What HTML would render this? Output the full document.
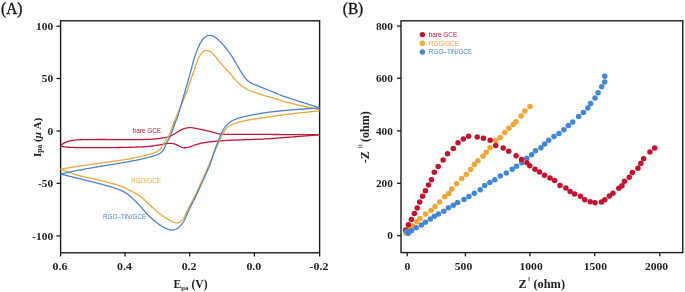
<!DOCTYPE html><html><head><meta charset="utf-8"><style>html,body{margin:0;padding:0;background:#fff;}svg{display:block;will-change:transform;}</style></head><body>
<svg width="685" height="292" viewBox="0 0 685 292">
<rect width="685" height="292" fill="#fff"/>
<rect x="60.60" y="20.80" width="259.00" height="232.00" fill="none" stroke="#1c1c1c" stroke-width="1.4"/>
<line x1="56.5" y1="26.20" x2="60.6" y2="26.20" stroke="#1c1c1c" stroke-width="1.3"/>
<text transform="translate(53.1,29.90) scale(1.05,1)" text-anchor="end" font-family='"Liberation Serif", serif' font-weight="bold" font-size="10.8" fill="#222">100</text>
<line x1="56.5" y1="78.50" x2="60.6" y2="78.50" stroke="#1c1c1c" stroke-width="1.3"/>
<text transform="translate(53.1,82.20) scale(1.05,1)" text-anchor="end" font-family='"Liberation Serif", serif' font-weight="bold" font-size="10.8" fill="#222">50</text>
<line x1="56.5" y1="131.00" x2="60.6" y2="131.00" stroke="#1c1c1c" stroke-width="1.3"/>
<text transform="translate(53.1,134.70) scale(1.05,1)" text-anchor="end" font-family='"Liberation Serif", serif' font-weight="bold" font-size="10.8" fill="#222">0</text>
<line x1="56.5" y1="183.40" x2="60.6" y2="183.40" stroke="#1c1c1c" stroke-width="1.3"/>
<text transform="translate(53.1,187.10) scale(1.05,1)" text-anchor="end" font-family='"Liberation Serif", serif' font-weight="bold" font-size="10.8" fill="#222">-50</text>
<line x1="56.5" y1="235.90" x2="60.6" y2="235.90" stroke="#1c1c1c" stroke-width="1.3"/>
<text transform="translate(53.1,239.60) scale(1.05,1)" text-anchor="end" font-family='"Liberation Serif", serif' font-weight="bold" font-size="10.8" fill="#222">-100</text>
<line x1="60.60" y1="252.8" x2="60.60" y2="256.5" stroke="#1c1c1c" stroke-width="1.3"/>
<text transform="translate(60.00,269.6) scale(1.1,1)" text-anchor="middle" font-family='"Liberation Serif", serif' font-weight="bold" font-size="10.8" fill="#222">0.6</text>
<line x1="125.00" y1="252.8" x2="125.00" y2="256.5" stroke="#1c1c1c" stroke-width="1.3"/>
<text transform="translate(124.40,269.6) scale(1.1,1)" text-anchor="middle" font-family='"Liberation Serif", serif' font-weight="bold" font-size="10.8" fill="#222">0.4</text>
<line x1="189.70" y1="252.8" x2="189.70" y2="256.5" stroke="#1c1c1c" stroke-width="1.3"/>
<text transform="translate(189.10,269.6) scale(1.1,1)" text-anchor="middle" font-family='"Liberation Serif", serif' font-weight="bold" font-size="10.8" fill="#222">0.2</text>
<line x1="254.40" y1="252.8" x2="254.40" y2="256.5" stroke="#1c1c1c" stroke-width="1.3"/>
<text transform="translate(253.80,269.6) scale(1.1,1)" text-anchor="middle" font-family='"Liberation Serif", serif' font-weight="bold" font-size="10.8" fill="#222">0.0</text>
<line x1="319.60" y1="252.8" x2="319.60" y2="256.5" stroke="#1c1c1c" stroke-width="1.3"/>
<text transform="translate(319.00,269.6) scale(1.1,1)" text-anchor="middle" font-family='"Liberation Serif", serif' font-weight="bold" font-size="10.8" fill="#222">-0.2</text>
<path d="M60.50 145.90 L61.42 145.06 L62.30 144.29 L63.23 143.56 L64.23 142.92 L65.28 142.36 L66.39 141.91 L67.53 141.55 L68.68 141.23 L69.85 140.96 L71.03 140.71 L72.21 140.50 L73.39 140.30 L74.57 140.12 L75.76 139.97 L76.96 139.88 L78.16 139.82 L79.36 139.78 L80.56 139.75 L81.76 139.72 L82.96 139.69 L84.16 139.67 L85.36 139.65 L86.56 139.63 L87.76 139.61 L88.96 139.59 L90.16 139.57 L91.36 139.56 L92.56 139.55 L93.76 139.54 L94.96 139.53 L96.16 139.52 L97.36 139.51 L98.56 139.51 L99.76 139.50 L100.96 139.50 L102.16 139.50 L103.36 139.51 L104.56 139.51 L105.76 139.52 L106.96 139.53 L108.16 139.54 L109.36 139.55 L110.57 139.56 L111.77 139.57 L112.97 139.58 L114.17 139.60 L115.37 139.61 L116.57 139.62 L117.77 139.63 L118.97 139.65 L120.17 139.66 L121.37 139.67 L122.57 139.68 L123.77 139.68 L124.97 139.69 L126.17 139.70 L127.37 139.70 L128.57 139.70 L129.77 139.70 L130.97 139.69 L132.17 139.69 L133.37 139.68 L134.57 139.67 L135.77 139.66 L136.97 139.64 L138.17 139.63 L139.38 139.61 L140.58 139.59 L141.78 139.57 L142.98 139.54 L144.18 139.51 L145.38 139.47 L146.58 139.44 L147.78 139.39 L148.97 139.34 L150.17 139.28 L151.37 139.22 L152.57 139.14 L153.77 139.05 L154.96 138.95 L156.16 138.83 L157.35 138.69 L158.54 138.54 L159.73 138.38 L160.92 138.21 L162.10 138.03 L163.29 137.83 L164.47 137.62 L165.65 137.39 L166.82 137.13 L167.98 136.82 L169.12 136.47 L170.24 136.05 L171.34 135.57 L172.41 135.04 L173.47 134.47 L174.51 133.87 L175.53 133.24 L176.54 132.60 L177.55 131.94 L178.56 131.30 L179.60 130.69 L180.65 130.12 L181.73 129.60 L182.83 129.12 L183.95 128.71 L185.09 128.35 L186.25 128.04 L187.42 127.82 L188.61 127.67 L189.80 127.63 L191.00 127.67 L192.19 127.77 L193.38 127.93 L194.57 128.12 L195.74 128.35 L196.92 128.60 L198.09 128.87 L199.26 129.13 L200.43 129.37 L201.61 129.61 L202.79 129.83 L203.97 130.05 L205.15 130.28 L206.33 130.51 L207.50 130.77 L208.67 131.05 L209.83 131.35 L210.98 131.69 L212.13 132.04 L213.27 132.39 L214.42 132.73 L215.58 133.05 L216.75 133.33 L217.92 133.59 L219.09 133.82 L220.28 134.00 L221.47 134.12 L222.67 134.19 L223.87 134.24 L225.07 134.28 L226.27 134.31 L227.47 134.33 L228.67 134.35 L229.87 134.36 L231.07 134.37 L232.27 134.37 L233.47 134.38 L234.67 134.38 L235.87 134.38 L237.07 134.38 L238.27 134.38 L239.47 134.38 L240.67 134.38 L241.87 134.38 L243.07 134.38 L244.27 134.38 L245.47 134.37 L246.67 134.37 L247.87 134.37 L249.07 134.37 L250.28 134.37 L251.48 134.37 L252.68 134.38 L253.88 134.38 L255.08 134.38 L256.28 134.38 L257.48 134.39 L258.68 134.39 L259.88 134.40 L261.08 134.41 L262.28 134.41 L263.48 134.42 L264.68 134.43 L265.88 134.43 L267.08 134.44 L268.28 134.45 L269.48 134.46 L270.68 134.46 L271.88 134.47 L273.08 134.48 L274.28 134.49 L275.48 134.49 L276.68 134.50 L277.89 134.51 L279.09 134.52 L280.29 134.53 L281.49 134.53 L282.69 134.54 L283.89 134.55 L285.09 134.56 L286.29 134.57 L287.49 134.58 L288.69 134.58 L289.89 134.59 L291.09 134.60 L292.29 134.61 L293.49 134.62 L294.69 134.63 L295.89 134.63 L297.09 134.64 L298.29 134.65 L299.49 134.66 L300.69 134.67 L301.89 134.68 L303.09 134.68 L304.29 134.69 L305.50 134.70 L306.70 134.71 L307.90 134.72 L309.10 134.73 L310.30 134.74 L311.50 134.74 L312.70 134.75 L313.90 134.76 L315.10 134.77 L316.29 134.78 L317.47 134.79 L318.65 134.79 L319.50 134.80" fill="none" stroke="#c0183a" stroke-width="1.3" stroke-linejoin="round"/>
<path d="M60.50 145.90 L61.70 146.24 L62.84 146.53 L64.00 146.76 L65.18 146.93 L66.37 147.06 L67.57 147.15 L68.77 147.23 L69.97 147.30 L71.17 147.36 L72.37 147.42 L73.57 147.47 L74.77 147.51 L75.97 147.55 L77.17 147.57 L78.37 147.59 L79.57 147.61 L80.77 147.62 L81.97 147.63 L83.18 147.63 L84.38 147.64 L85.58 147.64 L86.78 147.64 L87.98 147.64 L89.18 147.64 L90.38 147.63 L91.58 147.63 L92.78 147.63 L93.99 147.62 L95.19 147.62 L96.39 147.61 L97.59 147.61 L98.79 147.61 L99.99 147.60 L101.19 147.60 L102.39 147.59 L103.60 147.59 L104.80 147.59 L106.00 147.58 L107.20 147.58 L108.40 147.58 L109.60 147.57 L110.80 147.57 L112.00 147.56 L113.20 147.56 L114.41 147.55 L115.61 147.54 L116.81 147.53 L118.01 147.52 L119.21 147.50 L120.41 147.49 L121.61 147.47 L122.81 147.45 L124.01 147.42 L125.21 147.39 L126.42 147.36 L127.62 147.33 L128.82 147.30 L130.02 147.26 L131.22 147.23 L132.42 147.19 L133.62 147.15 L134.82 147.11 L136.02 147.07 L137.22 147.02 L138.42 146.97 L139.62 146.92 L140.82 146.87 L142.02 146.81 L143.22 146.75 L144.42 146.69 L145.62 146.62 L146.82 146.55 L148.02 146.46 L149.21 146.37 L150.41 146.27 L151.60 146.14 L152.80 146.00 L153.99 145.84 L155.17 145.66 L156.36 145.46 L157.54 145.25 L158.72 145.03 L159.90 144.80 L161.08 144.57 L162.26 144.33 L163.43 144.07 L164.60 143.80 L165.77 143.56 L166.95 143.39 L168.15 143.30 L169.34 143.30 L170.54 143.36 L171.74 143.47 L172.92 143.64 L174.09 143.88 L175.23 144.23 L176.34 144.68 L177.42 145.20 L178.49 145.74 L179.56 146.28 L180.64 146.81 L181.74 147.27 L182.87 147.60 L184.04 147.77 L185.22 147.77 L186.41 147.64 L187.58 147.42 L188.74 147.13 L189.89 146.78 L191.03 146.41 L192.17 146.01 L193.30 145.61 L194.43 145.21 L195.57 144.82 L196.71 144.44 L197.85 144.09 L199.01 143.77 L200.18 143.48 L201.35 143.21 L202.52 142.97 L203.70 142.74 L204.88 142.53 L206.07 142.35 L207.26 142.18 L208.45 142.03 L209.64 141.89 L210.84 141.76 L212.03 141.64 L213.23 141.52 L214.43 141.41 L215.62 141.30 L216.82 141.19 L218.01 141.09 L219.21 140.99 L220.41 140.89 L221.61 140.80 L222.80 140.71 L224.00 140.62 L225.20 140.54 L226.40 140.46 L227.60 140.39 L228.80 140.32 L230.00 140.26 L231.20 140.21 L232.40 140.16 L233.60 140.12 L234.80 140.08 L236.00 140.04 L237.20 140.00 L238.40 139.96 L239.60 139.91 L240.80 139.87 L242.00 139.83 L243.20 139.79 L244.40 139.74 L245.60 139.70 L246.80 139.66 L248.00 139.62 L249.20 139.58 L250.40 139.54 L251.60 139.50 L252.80 139.46 L254.01 139.42 L255.21 139.38 L256.41 139.34 L257.61 139.29 L258.81 139.25 L260.01 139.20 L261.21 139.15 L262.41 139.09 L263.61 139.03 L264.81 138.97 L266.00 138.90 L267.20 138.82 L268.40 138.73 L269.60 138.65 L270.80 138.56 L272.00 138.48 L273.19 138.39 L274.39 138.31 L275.59 138.22 L276.79 138.13 L277.99 138.04 L279.18 137.95 L280.38 137.86 L281.58 137.77 L282.78 137.68 L283.98 137.59 L285.17 137.50 L286.37 137.41 L287.57 137.32 L288.77 137.23 L289.96 137.14 L291.16 137.05 L292.36 136.96 L293.56 136.86 L294.75 136.77 L295.95 136.68 L297.15 136.59 L298.35 136.50 L299.54 136.40 L300.74 136.31 L301.94 136.21 L303.14 136.12 L304.33 136.02 L305.53 135.93 L306.73 135.83 L307.93 135.74 L309.12 135.64 L310.32 135.54 L311.52 135.45 L312.72 135.35 L313.91 135.25 L315.11 135.15 L316.30 135.06 L317.48 134.96 L318.65 134.87 L319.50 134.80" fill="none" stroke="#c0183a" stroke-width="1.3" stroke-linejoin="round"/>
<path d="M319.50 109.70 L318.28 109.43 L317.14 109.18 L315.98 108.93 L314.81 108.67 L313.64 108.42 L312.46 108.16 L311.29 107.90 L310.12 107.65 L308.94 107.39 L307.77 107.13 L306.60 106.88 L305.43 106.62 L304.25 106.36 L303.08 106.10 L301.91 105.84 L300.74 105.58 L299.56 105.32 L298.39 105.06 L297.22 104.80 L296.05 104.54 L294.88 104.27 L293.71 104.00 L292.54 103.73 L291.37 103.46 L290.20 103.18 L289.03 102.90 L287.87 102.60 L286.71 102.28 L285.56 101.95 L284.41 101.60 L283.27 101.22 L282.14 100.83 L281.01 100.42 L279.88 100.01 L278.75 99.60 L277.62 99.21 L276.47 98.84 L275.32 98.50 L274.17 98.18 L273.01 97.86 L271.85 97.56 L270.68 97.26 L269.52 96.96 L268.36 96.65 L267.20 96.33 L266.05 96.00 L264.90 95.66 L263.75 95.31 L262.61 94.94 L261.46 94.57 L260.32 94.20 L259.18 93.83 L258.04 93.45 L256.90 93.07 L255.76 92.70 L254.62 92.33 L253.48 91.96 L252.34 91.58 L251.21 91.18 L250.10 90.73 L249.00 90.24 L247.93 89.71 L246.87 89.15 L245.82 88.55 L244.80 87.93 L243.80 87.27 L242.81 86.59 L241.84 85.88 L240.89 85.15 L239.96 84.39 L239.05 83.61 L238.17 82.80 L237.31 81.96 L236.48 81.09 L235.68 80.19 L234.91 79.27 L234.15 78.35 L233.39 77.42 L232.63 76.49 L231.85 75.57 L231.07 74.67 L230.27 73.77 L229.46 72.88 L228.65 71.99 L227.84 71.11 L227.03 70.22 L226.22 69.34 L225.40 68.45 L224.59 67.57 L223.79 66.68 L222.98 65.79 L222.19 64.89 L221.40 63.98 L220.63 63.06 L219.86 62.14 L219.11 61.20 L218.37 60.26 L217.63 59.31 L216.89 58.37 L216.14 57.43 L215.39 56.49 L214.61 55.58 L213.81 54.69 L212.97 53.83 L212.09 53.01 L211.17 52.25 L210.20 51.57 L209.16 51.01 L208.06 50.64 L206.91 50.50 L205.75 50.61 L204.63 50.93 L203.57 51.45 L202.60 52.12 L201.73 52.91 L200.95 53.81 L200.26 54.79 L199.66 55.82 L199.12 56.89 L198.62 57.98 L198.15 59.08 L197.69 60.19 L197.25 61.31 L196.81 62.43 L196.38 63.55 L195.97 64.67 L195.57 65.81 L195.21 66.95 L194.87 68.10 L194.52 69.25 L194.14 70.39 L193.75 71.52 L193.34 72.65 L192.93 73.78 L192.51 74.91 L192.10 76.04 L191.70 77.17 L191.30 78.30 L190.91 79.43 L190.53 80.57 L190.14 81.71 L189.76 82.85 L189.39 83.99 L189.01 85.13 L188.62 86.27 L188.24 87.40 L187.85 88.54 L187.45 89.67 L187.05 90.80 L186.64 91.93 L186.23 93.06 L185.81 94.18 L185.37 95.30 L184.93 96.42 L184.48 97.53 L184.03 98.64 L183.57 99.75 L183.10 100.86 L182.63 101.97 L182.16 103.07 L181.69 104.17 L181.21 105.28 L180.73 106.38 L180.26 107.48 L179.78 108.58 L179.30 109.68 L178.82 110.78 L178.34 111.88 L177.87 112.99 L177.39 114.09 L176.92 115.19 L176.45 116.30 L175.98 117.40 L175.51 118.51 L175.05 119.61 L174.59 120.73 L174.15 121.84 L173.71 122.96 L173.29 124.08 L172.88 125.21 L172.47 126.34 L172.07 127.47 L171.66 128.60 L171.26 129.73 L170.84 130.86 L170.42 131.98 L169.98 133.10 L169.51 134.20 L168.99 135.28 L168.39 136.32 L167.72 137.30 L167.00 138.26 L166.29 139.22 L165.64 140.22 L165.04 141.26 L164.49 142.32 L163.95 143.39 L163.39 144.45 L162.79 145.49 L162.14 146.50 L161.45 147.48 L160.71 148.42 L159.92 149.32 L159.06 150.15 L158.13 150.90 L157.14 151.55 L156.09 152.12 L154.99 152.60 L153.87 153.02 L152.74 153.40 L151.59 153.76 L150.43 154.09 L149.28 154.42 L148.12 154.73 L146.96 155.04 L145.80 155.33 L144.63 155.61 L143.46 155.88 L142.29 156.15 L141.12 156.41 L139.94 156.67 L138.77 156.92 L137.60 157.17 L136.42 157.42 L135.25 157.67 L134.07 157.91 L132.89 158.15 L131.72 158.38 L130.54 158.61 L129.36 158.83 L128.18 159.05 L126.99 159.25 L125.81 159.46 L124.63 159.66 L123.44 159.85 L122.25 160.03 L121.07 160.22 L119.88 160.39 L118.69 160.57 L117.50 160.74 L116.31 160.91 L115.13 161.08 L113.94 161.25 L112.75 161.41 L111.56 161.58 L110.37 161.75 L109.18 161.91 L107.99 162.08 L106.80 162.24 L105.61 162.40 L104.42 162.56 L103.23 162.72 L102.04 162.88 L100.85 163.04 L99.66 163.21 L98.47 163.37 L97.28 163.54 L96.10 163.70 L94.91 163.87 L93.72 164.03 L92.53 164.19 L91.34 164.36 L90.15 164.52 L88.96 164.69 L87.77 164.85 L86.58 165.02 L85.39 165.19 L84.20 165.36 L83.02 165.53 L81.83 165.70 L80.64 165.88 L79.45 166.06 L78.26 166.24 L77.08 166.42 L75.89 166.61 L74.71 166.80 L73.52 167.00 L72.34 167.19 L71.15 167.39 L69.97 167.59 L68.78 167.79 L67.60 167.99 L66.42 168.19 L65.23 168.39 L64.05 168.59 L62.89 168.79 L61.73 168.99 L60.50 169.20" fill="none" stroke="#eaa83c" stroke-width="1.3" stroke-linejoin="round"/>
<path d="M60.50 169.20 L61.68 169.62 L62.78 170.02 L63.89 170.43 L65.02 170.84 L66.14 171.25 L67.27 171.66 L68.40 172.07 L69.53 172.47 L70.67 172.87 L71.80 173.26 L72.94 173.65 L74.08 174.03 L75.22 174.40 L76.37 174.76 L77.52 175.10 L78.67 175.43 L79.83 175.75 L80.99 176.05 L82.16 176.34 L83.33 176.62 L84.50 176.89 L85.67 177.16 L86.84 177.41 L88.02 177.66 L89.19 177.91 L90.37 178.16 L91.54 178.41 L92.71 178.66 L93.89 178.92 L95.06 179.18 L96.23 179.44 L97.40 179.72 L98.57 180.00 L99.74 180.29 L100.90 180.58 L102.07 180.87 L103.23 181.17 L104.39 181.46 L105.56 181.76 L106.72 182.06 L107.88 182.36 L109.04 182.67 L110.21 182.97 L111.37 183.29 L112.52 183.60 L113.68 183.92 L114.84 184.25 L115.99 184.59 L117.14 184.93 L118.29 185.29 L119.43 185.66 L120.56 186.05 L121.69 186.46 L122.81 186.90 L123.91 187.37 L125.00 187.87 L126.08 188.40 L127.15 188.95 L128.21 189.51 L129.28 190.07 L130.34 190.62 L131.41 191.18 L132.47 191.73 L133.54 192.29 L134.59 192.86 L135.64 193.44 L136.68 194.04 L137.71 194.66 L138.73 195.30 L139.72 195.98 L140.69 196.68 L141.63 197.43 L142.54 198.20 L143.43 199.01 L144.31 199.83 L145.17 200.67 L146.03 201.51 L146.90 202.34 L147.77 203.16 L148.65 203.98 L149.54 204.79 L150.42 205.61 L151.30 206.42 L152.19 207.23 L153.07 208.04 L153.97 208.84 L154.87 209.63 L155.78 210.42 L156.70 211.19 L157.62 211.96 L158.55 212.72 L159.49 213.47 L160.43 214.21 L161.39 214.94 L162.36 215.65 L163.34 216.34 L164.34 217.01 L165.34 217.67 L166.36 218.30 L167.39 218.92 L168.43 219.52 L169.48 220.11 L170.53 220.69 L171.58 221.26 L172.65 221.82 L173.73 222.33 L174.84 222.73 L175.99 222.96 L177.15 222.97 L178.29 222.76 L179.40 222.34 L180.44 221.78 L181.39 221.08 L182.25 220.27 L183.00 219.34 L183.64 218.34 L184.21 217.29 L184.72 216.21 L185.20 215.10 L185.67 214.00 L186.15 212.90 L186.64 211.80 L187.16 210.72 L187.70 209.65 L188.24 208.58 L188.80 207.51 L189.36 206.45 L189.93 205.39 L190.50 204.34 L191.07 203.28 L191.64 202.22 L192.20 201.16 L192.77 200.10 L193.33 199.04 L193.88 197.97 L194.43 196.91 L194.98 195.83 L195.51 194.76 L196.04 193.68 L196.56 192.60 L197.07 191.51 L197.58 190.42 L198.09 189.33 L198.59 188.24 L199.08 187.15 L199.58 186.05 L200.07 184.96 L200.56 183.86 L201.05 182.77 L201.55 181.67 L202.04 180.58 L202.53 179.48 L203.03 178.39 L203.52 177.29 L204.02 176.20 L204.51 175.10 L205.00 174.01 L205.50 172.91 L205.99 171.82 L206.48 170.72 L206.96 169.62 L207.45 168.52 L207.93 167.42 L208.42 166.33 L208.90 165.23 L209.38 164.12 L209.86 163.02 L210.33 161.92 L210.80 160.81 L211.27 159.71 L211.74 158.60 L212.21 157.50 L212.68 156.39 L213.15 155.29 L213.62 154.18 L214.09 153.07 L214.56 151.97 L215.03 150.87 L215.50 149.76 L215.98 148.66 L216.46 147.56 L216.94 146.46 L217.42 145.36 L217.90 144.26 L218.39 143.16 L218.87 142.06 L219.37 140.96 L219.86 139.87 L220.37 138.78 L220.88 137.69 L221.40 136.61 L221.93 135.53 L222.47 134.46 L223.01 133.39 L223.57 132.33 L224.16 131.28 L224.81 130.28 L225.53 129.33 L226.33 128.44 L227.20 127.62 L228.12 126.86 L229.10 126.17 L230.12 125.54 L231.17 124.98 L232.26 124.47 L233.37 124.02 L234.50 123.60 L235.63 123.22 L236.78 122.86 L237.93 122.51 L239.08 122.18 L240.24 121.86 L241.40 121.56 L242.57 121.27 L243.74 120.99 L244.91 120.72 L246.08 120.47 L247.26 120.22 L248.43 119.99 L249.61 119.76 L250.80 119.55 L251.98 119.35 L253.17 119.16 L254.36 118.99 L255.55 118.84 L256.74 118.68 L257.93 118.53 L259.12 118.38 L260.31 118.23 L261.50 118.06 L262.69 117.89 L263.88 117.71 L265.06 117.53 L266.25 117.34 L267.44 117.15 L268.62 116.96 L269.81 116.77 L271.00 116.59 L272.18 116.41 L273.37 116.24 L274.56 116.06 L275.75 115.90 L276.94 115.73 L278.13 115.57 L279.32 115.40 L280.51 115.24 L281.70 115.08 L282.89 114.92 L284.08 114.76 L285.27 114.60 L286.46 114.45 L287.65 114.29 L288.85 114.14 L290.04 113.99 L291.23 113.85 L292.42 113.70 L293.61 113.56 L294.81 113.42 L296.00 113.29 L297.19 113.16 L298.39 113.03 L299.58 112.90 L300.78 112.77 L301.97 112.65 L303.17 112.53 L304.36 112.40 L305.56 112.28 L306.75 112.16 L307.95 112.04 L309.14 111.92 L310.34 111.81 L311.53 111.69 L312.73 111.57 L313.92 111.45 L315.12 111.33 L316.31 111.22 L317.48 111.10 L318.65 110.99 L319.50 110.90" fill="none" stroke="#eaa83c" stroke-width="1.3" stroke-linejoin="round"/>
<path d="M319.50 107.80 L318.31 107.42 L317.19 107.07 L316.06 106.71 L314.92 106.35 L313.78 105.99 L312.63 105.63 L311.49 105.27 L310.34 104.91 L309.20 104.54 L308.05 104.18 L306.91 103.82 L305.76 103.46 L304.62 103.10 L303.48 102.74 L302.33 102.37 L301.19 102.01 L300.04 101.65 L298.90 101.29 L297.76 100.92 L296.61 100.56 L295.47 100.19 L294.32 99.83 L293.18 99.46 L292.04 99.10 L290.90 98.73 L289.75 98.36 L288.61 97.99 L287.47 97.61 L286.33 97.24 L285.19 96.86 L284.06 96.47 L282.92 96.07 L281.80 95.66 L280.68 95.22 L279.58 94.75 L278.48 94.26 L277.39 93.76 L276.29 93.28 L275.18 92.82 L274.07 92.38 L272.95 91.94 L271.83 91.50 L270.72 91.06 L269.60 90.63 L268.48 90.19 L267.37 89.74 L266.25 89.30 L265.14 88.85 L264.02 88.40 L262.91 87.95 L261.80 87.50 L260.69 87.05 L259.58 86.59 L258.47 86.13 L257.36 85.67 L256.26 85.20 L255.15 84.73 L254.04 84.28 L252.93 83.82 L251.83 83.34 L250.75 82.82 L249.71 82.24 L248.71 81.58 L247.78 80.84 L246.90 80.03 L246.08 79.16 L245.31 78.24 L244.58 77.29 L243.88 76.31 L243.20 75.33 L242.54 74.32 L241.90 73.31 L241.28 72.28 L240.66 71.25 L240.05 70.22 L239.45 69.18 L238.85 68.14 L238.24 67.10 L237.64 66.07 L237.03 65.04 L236.42 64.00 L235.81 62.96 L235.21 61.93 L234.60 60.89 L234.00 59.85 L233.39 58.82 L232.77 57.79 L232.13 56.77 L231.48 55.76 L230.82 54.76 L230.14 53.77 L229.45 52.80 L228.74 51.83 L228.02 50.86 L227.30 49.91 L226.56 48.96 L225.81 48.02 L225.06 47.09 L224.29 46.16 L223.51 45.25 L222.72 44.35 L221.91 43.47 L221.08 42.60 L220.24 41.75 L219.38 40.90 L218.52 40.07 L217.64 39.25 L216.74 38.46 L215.81 37.71 L214.82 37.03 L213.79 36.44 L212.71 35.94 L211.58 35.58 L210.42 35.38 L209.25 35.37 L208.09 35.56 L206.98 35.93 L205.93 36.47 L204.96 37.15 L204.07 37.94 L203.26 38.81 L202.50 39.74 L201.80 40.71 L201.14 41.71 L200.52 42.74 L199.94 43.79 L199.40 44.86 L198.88 45.94 L198.39 47.04 L197.92 48.14 L197.47 49.25 L197.04 50.37 L196.61 51.49 L196.19 52.62 L195.79 53.75 L195.38 54.88 L194.99 56.01 L194.60 57.15 L194.21 58.28 L193.84 59.43 L193.49 60.57 L193.16 61.73 L192.85 62.89 L192.56 64.05 L192.28 65.22 L192.00 66.38 L191.71 67.55 L191.41 68.71 L191.11 69.87 L190.80 71.03 L190.50 72.19 L190.19 73.35 L189.87 74.51 L189.55 75.67 L189.23 76.83 L188.90 77.98 L188.57 79.14 L188.24 80.29 L187.91 81.44 L187.58 82.60 L187.24 83.75 L186.91 84.90 L186.57 86.05 L186.23 87.21 L185.90 88.36 L185.56 89.51 L185.22 90.66 L184.89 91.81 L184.55 92.97 L184.21 94.12 L183.88 95.27 L183.54 96.42 L183.20 97.58 L182.87 98.73 L182.54 99.88 L182.21 101.04 L181.88 102.19 L181.55 103.35 L181.23 104.50 L180.91 105.66 L180.59 106.81 L180.26 107.97 L179.94 109.13 L179.61 110.28 L179.28 111.44 L178.94 112.59 L178.59 113.73 L178.22 114.88 L177.84 116.01 L177.43 117.14 L177.01 118.26 L176.56 119.38 L176.10 120.49 L175.64 121.60 L175.19 122.71 L174.76 123.83 L174.34 124.95 L173.94 126.09 L173.56 127.22 L173.18 128.36 L172.80 129.50 L172.41 130.64 L172.02 131.77 L171.61 132.90 L171.17 134.02 L170.71 135.12 L170.22 136.22 L169.69 137.29 L169.14 138.36 L168.57 139.41 L167.99 140.47 L167.41 141.52 L166.85 142.58 L166.32 143.65 L165.83 144.75 L165.36 145.85 L164.90 146.96 L164.41 148.05 L163.85 149.11 L163.22 150.12 L162.49 151.06 L161.68 151.93 L160.79 152.72 L159.82 153.42 L158.79 154.02 L157.71 154.54 L156.60 154.99 L155.47 155.39 L154.33 155.74 L153.18 156.08 L152.02 156.40 L150.86 156.71 L149.70 157.01 L148.54 157.32 L147.38 157.62 L146.21 157.91 L145.04 158.19 L143.88 158.47 L142.71 158.74 L141.54 159.01 L140.37 159.27 L139.19 159.53 L138.02 159.78 L136.85 160.03 L135.67 160.27 L134.49 160.52 L133.32 160.75 L132.14 160.98 L130.96 161.21 L129.78 161.43 L128.60 161.65 L127.42 161.86 L126.24 162.08 L125.06 162.29 L123.87 162.50 L122.69 162.70 L121.51 162.90 L120.33 163.10 L119.14 163.30 L117.96 163.49 L116.77 163.69 L115.59 163.88 L114.40 164.08 L113.22 164.27 L112.03 164.47 L110.85 164.66 L109.66 164.85 L108.48 165.05 L107.29 165.24 L106.11 165.43 L104.92 165.61 L103.74 165.80 L102.55 166.00 L101.37 166.20 L100.19 166.40 L99.00 166.60 L97.82 166.81 L96.64 167.01 L95.46 167.22 L94.27 167.43 L93.09 167.64 L91.91 167.85 L90.73 168.06 L89.55 168.27 L88.37 168.48 L87.18 168.69 L86.00 168.91 L84.82 169.12 L83.64 169.34 L82.46 169.56 L81.28 169.78 L80.10 170.00 L78.92 170.22 L77.74 170.45 L76.57 170.68 L75.39 170.91 L74.21 171.15 L73.03 171.39 L71.86 171.63 L70.68 171.87 L69.51 172.11 L68.33 172.36 L67.16 172.60 L65.98 172.85 L64.81 173.10 L63.64 173.34 L62.49 173.59 L61.33 173.83 L60.50 174.00" fill="none" stroke="#4b84cc" stroke-width="1.3" stroke-linejoin="round"/>
<path d="M60.50 174.00 L61.71 174.30 L62.85 174.59 L64.00 174.88 L65.16 175.17 L66.33 175.46 L67.49 175.75 L68.66 176.04 L69.82 176.33 L70.99 176.62 L72.15 176.92 L73.32 177.21 L74.48 177.50 L75.65 177.79 L76.81 178.08 L77.98 178.37 L79.15 178.66 L80.31 178.95 L81.48 179.23 L82.65 179.51 L83.82 179.79 L84.98 180.08 L86.15 180.36 L87.32 180.64 L88.49 180.92 L89.65 181.20 L90.82 181.49 L91.99 181.78 L93.15 182.07 L94.32 182.37 L95.48 182.67 L96.64 182.97 L97.80 183.28 L98.96 183.59 L100.12 183.91 L101.28 184.22 L102.44 184.54 L103.60 184.86 L104.75 185.18 L105.91 185.50 L107.07 185.82 L108.23 186.15 L109.38 186.48 L110.53 186.81 L111.69 187.15 L112.84 187.50 L113.98 187.85 L115.13 188.22 L116.27 188.60 L117.40 188.99 L118.53 189.41 L119.65 189.84 L120.76 190.30 L121.85 190.79 L122.93 191.32 L123.99 191.88 L125.03 192.48 L126.04 193.12 L127.03 193.81 L127.99 194.52 L128.94 195.26 L129.88 196.01 L130.80 196.78 L131.71 197.57 L132.59 198.38 L133.46 199.21 L134.31 200.05 L135.16 200.91 L136.00 201.77 L136.83 202.64 L137.65 203.51 L138.47 204.38 L139.30 205.26 L140.12 206.14 L140.93 207.02 L141.73 207.91 L142.52 208.82 L143.31 209.73 L144.09 210.64 L144.87 211.55 L145.66 212.46 L146.46 213.35 L147.28 214.23 L148.12 215.09 L148.97 215.94 L149.84 216.77 L150.72 217.59 L151.61 218.39 L152.51 219.18 L153.42 219.96 L154.35 220.73 L155.28 221.49 L156.22 222.24 L157.17 222.97 L158.12 223.70 L159.09 224.41 L160.08 225.09 L161.08 225.76 L162.10 226.39 L163.14 226.99 L164.19 227.56 L165.27 228.10 L166.35 228.61 L167.46 229.08 L168.59 229.48 L169.74 229.79 L170.91 229.99 L172.09 230.05 L173.27 229.95 L174.43 229.69 L175.54 229.28 L176.60 228.75 L177.62 228.12 L178.59 227.42 L179.51 226.65 L180.38 225.83 L181.20 224.96 L181.97 224.04 L182.68 223.07 L183.34 222.07 L183.95 221.04 L184.51 219.98 L185.04 218.90 L185.54 217.81 L186.02 216.71 L186.49 215.61 L186.97 214.50 L187.44 213.40 L187.93 212.30 L188.43 211.21 L188.94 210.12 L189.47 209.04 L189.99 207.96 L190.53 206.89 L191.06 205.81 L191.60 204.74 L192.14 203.66 L192.67 202.59 L193.21 201.51 L193.75 200.44 L194.28 199.36 L194.81 198.28 L195.34 197.20 L195.86 196.12 L196.38 195.04 L196.89 193.95 L197.40 192.86 L197.90 191.77 L198.40 190.68 L198.90 189.59 L199.40 188.50 L199.89 187.40 L200.39 186.31 L200.88 185.21 L201.37 184.11 L201.86 183.02 L202.34 181.92 L202.83 180.82 L203.33 179.73 L203.82 178.63 L204.32 177.54 L204.81 176.44 L205.31 175.35 L205.81 174.26 L206.31 173.16 L206.80 172.07 L207.29 170.97 L207.77 169.87 L208.25 168.77 L208.72 167.66 L209.17 166.55 L209.62 165.44 L210.05 164.31 L210.46 163.19 L210.86 162.05 L211.25 160.92 L211.63 159.78 L212.01 158.64 L212.37 157.49 L212.74 156.35 L213.10 155.20 L213.46 154.06 L213.83 152.92 L214.21 151.77 L214.59 150.64 L214.99 149.50 L215.39 148.37 L215.80 147.24 L216.22 146.12 L216.65 144.99 L217.08 143.87 L217.52 142.75 L217.96 141.64 L218.40 140.52 L218.83 139.40 L219.27 138.28 L219.71 137.16 L220.15 136.05 L220.61 134.93 L221.07 133.83 L221.57 132.73 L222.09 131.65 L222.65 130.59 L223.27 129.56 L223.93 128.56 L224.63 127.59 L225.38 126.65 L226.16 125.74 L226.98 124.87 L227.84 124.03 L228.74 123.24 L229.67 122.48 L230.63 121.77 L231.64 121.11 L232.67 120.51 L233.74 119.97 L234.83 119.48 L235.95 119.04 L237.08 118.64 L238.22 118.27 L239.37 117.92 L240.53 117.60 L241.69 117.28 L242.85 116.99 L244.02 116.70 L245.19 116.43 L246.36 116.16 L247.53 115.91 L248.71 115.66 L249.89 115.41 L251.06 115.18 L252.24 114.95 L253.42 114.72 L254.60 114.49 L255.78 114.28 L256.96 114.06 L258.15 113.85 L259.33 113.65 L260.52 113.45 L261.70 113.25 L262.89 113.06 L264.07 112.88 L265.26 112.71 L266.45 112.54 L267.64 112.38 L268.83 112.22 L270.03 112.07 L271.22 111.93 L272.41 111.79 L273.60 111.66 L274.80 111.52 L275.99 111.39 L277.19 111.27 L278.38 111.14 L279.58 111.02 L280.77 110.89 L281.97 110.77 L283.16 110.65 L284.36 110.54 L285.55 110.42 L286.75 110.31 L287.95 110.20 L289.14 110.09 L290.34 109.99 L291.54 109.89 L292.73 109.79 L293.93 109.69 L295.13 109.59 L296.33 109.50 L297.52 109.41 L298.72 109.33 L299.92 109.24 L301.12 109.16 L302.32 109.08 L303.51 109.00 L304.71 108.92 L305.91 108.85 L307.11 108.77 L308.31 108.69 L309.51 108.62 L310.71 108.54 L311.91 108.47 L313.11 108.40 L314.30 108.32 L315.50 108.25 L316.69 108.18 L317.86 108.10 L319.06 108.03 L319.50 108.00" fill="none" stroke="#4b84cc" stroke-width="1.3" stroke-linejoin="round"/>
<text x="132.7" y="132.6" font-family='"Liberation Sans", sans-serif' font-size="6.4" fill="#c8102e">bare GCE</text>
<text x="130.9" y="183.3" font-family='"Liberation Sans", sans-serif' font-size="6.4" fill="#f2a531">RGO/GCE</text>
<text x="102.9" y="219.1" font-family='"Liberation Sans", sans-serif' font-size="6.4" fill="#4386d8">RGO–TiN/GCE</text>
<text x="173.6" y="288" font-family='"Liberation Serif", serif' font-weight="bold" font-size="11.6" fill="#222">E<tspan font-size="6.8" dy="1.6">pa</tspan><tspan dy="-1.6"> (V)</tspan></text>
<text transform="translate(41,157.0) rotate(-90)" x="0" y="0" font-family='"Liberation Serif", serif' font-weight="bold" font-size="11" fill="#222">I<tspan font-size="7.6" dy="1.3">pa</tspan><tspan dy="-1.3"> (</tspan><tspan font-style="italic">μ</tspan> A)</text>
<text transform="translate(1.0,13.5) scale(1.03,1.15)" x="0" y="0" font-family='"Liberation Serif", serif' font-size="15" fill="#111" stroke="#111" stroke-width="0.35">(A)</text>
<text transform="translate(342.8,13.5) scale(1.02,1.14)" x="0" y="0" font-family='"Liberation Serif", serif' font-size="15" fill="#111" stroke="#111" stroke-width="0.3">(B)</text>
<rect x="401.00" y="20.80" width="281.80" height="231.80" fill="none" stroke="#1c1c1c" stroke-width="1.4"/>
<line x1="397" y1="26.10" x2="401" y2="26.10" stroke="#1c1c1c" stroke-width="1.3"/>
<text transform="translate(392.9,29.85) scale(1.0,1)" text-anchor="end" font-family='"Liberation Serif", serif' font-weight="bold" font-size="11.3" fill="#222">800</text>
<line x1="397" y1="78.20" x2="401" y2="78.20" stroke="#1c1c1c" stroke-width="1.3"/>
<text transform="translate(392.9,81.95) scale(1.0,1)" text-anchor="end" font-family='"Liberation Serif", serif' font-weight="bold" font-size="11.3" fill="#222">600</text>
<line x1="397" y1="130.80" x2="401" y2="130.80" stroke="#1c1c1c" stroke-width="1.3"/>
<text transform="translate(392.9,134.55) scale(1.0,1)" text-anchor="end" font-family='"Liberation Serif", serif' font-weight="bold" font-size="11.3" fill="#222">400</text>
<line x1="397" y1="183.30" x2="401" y2="183.30" stroke="#1c1c1c" stroke-width="1.3"/>
<text transform="translate(392.9,187.05) scale(1.0,1)" text-anchor="end" font-family='"Liberation Serif", serif' font-weight="bold" font-size="11.3" fill="#222">200</text>
<line x1="397" y1="235.70" x2="401" y2="235.70" stroke="#1c1c1c" stroke-width="1.3"/>
<text transform="translate(392.9,239.45) scale(1.0,1)" text-anchor="end" font-family='"Liberation Serif", serif' font-weight="bold" font-size="11.3" fill="#222">0</text>
<line x1="407.20" y1="252.6" x2="407.20" y2="256.3" stroke="#1c1c1c" stroke-width="1.3"/>
<text transform="translate(407.50,269.6) scale(1.02,1)" text-anchor="middle" font-family='"Liberation Serif", serif' font-weight="bold" font-size="11.4" fill="#222">0</text>
<line x1="465.40" y1="252.6" x2="465.40" y2="256.3" stroke="#1c1c1c" stroke-width="1.3"/>
<text transform="translate(463.50,269.6) scale(1.02,1)" text-anchor="middle" font-family='"Liberation Serif", serif' font-weight="bold" font-size="11.4" fill="#222">500</text>
<line x1="529.90" y1="252.6" x2="529.90" y2="256.3" stroke="#1c1c1c" stroke-width="1.3"/>
<text transform="translate(531.10,269.6) scale(1.02,1)" text-anchor="middle" font-family='"Liberation Serif", serif' font-weight="bold" font-size="11.4" fill="#222">1000</text>
<line x1="594.70" y1="252.6" x2="594.70" y2="256.3" stroke="#1c1c1c" stroke-width="1.3"/>
<text transform="translate(595.35,269.6) scale(1.02,1)" text-anchor="middle" font-family='"Liberation Serif", serif' font-weight="bold" font-size="11.4" fill="#222">1500</text>
<line x1="659.80" y1="252.6" x2="659.80" y2="256.3" stroke="#1c1c1c" stroke-width="1.3"/>
<text transform="translate(656.50,269.6) scale(1.02,1)" text-anchor="middle" font-family='"Liberation Serif", serif' font-weight="bold" font-size="11.4" fill="#222">2000</text>
<circle cx="406.00" cy="233.20" r="2.75" fill="#f2a531"/>
<circle cx="409.00" cy="229.60" r="2.75" fill="#f2a531"/>
<circle cx="412.60" cy="226.00" r="2.75" fill="#f2a531"/>
<circle cx="416.80" cy="221.80" r="2.75" fill="#f2a531"/>
<circle cx="420.00" cy="218.50" r="2.75" fill="#f2a531"/>
<circle cx="425.50" cy="214.00" r="2.75" fill="#f2a531"/>
<circle cx="431.00" cy="210.50" r="2.75" fill="#f2a531"/>
<circle cx="435.10" cy="206.40" r="2.75" fill="#f2a531"/>
<circle cx="439.60" cy="202.10" r="2.75" fill="#f2a531"/>
<circle cx="444.70" cy="196.80" r="2.75" fill="#f2a531"/>
<circle cx="448.80" cy="193.40" r="2.75" fill="#f2a531"/>
<circle cx="451.70" cy="189.00" r="2.75" fill="#f2a531"/>
<circle cx="456.60" cy="183.70" r="2.75" fill="#f2a531"/>
<circle cx="461.70" cy="178.50" r="2.75" fill="#f2a531"/>
<circle cx="466.20" cy="174.50" r="2.75" fill="#f2a531"/>
<circle cx="470.60" cy="169.60" r="2.75" fill="#f2a531"/>
<circle cx="474.30" cy="164.40" r="2.75" fill="#f2a531"/>
<circle cx="477.90" cy="160.70" r="2.75" fill="#f2a531"/>
<circle cx="483.00" cy="156.20" r="2.75" fill="#f2a531"/>
<circle cx="486.20" cy="152.30" r="2.75" fill="#f2a531"/>
<circle cx="490.00" cy="147.80" r="2.75" fill="#f2a531"/>
<circle cx="495.70" cy="140.40" r="2.75" fill="#f2a531"/>
<circle cx="500.20" cy="137.50" r="2.75" fill="#f2a531"/>
<circle cx="504.70" cy="132.60" r="2.75" fill="#f2a531"/>
<circle cx="508.90" cy="128.30" r="2.75" fill="#f2a531"/>
<circle cx="513.30" cy="124.60" r="2.75" fill="#f2a531"/>
<circle cx="516.00" cy="121.70" r="2.75" fill="#f2a531"/>
<circle cx="521.10" cy="116.10" r="2.75" fill="#f2a531"/>
<circle cx="524.90" cy="111.00" r="2.75" fill="#f2a531"/>
<circle cx="530.00" cy="106.60" r="2.75" fill="#f2a531"/>
<circle cx="405.70" cy="229.90" r="2.75" fill="#c8102e"/>
<circle cx="406.60" cy="231.60" r="2.75" fill="#4386d8"/>
<circle cx="408.30" cy="233.20" r="2.75" fill="#4386d8"/>
<circle cx="411.40" cy="230.80" r="2.75" fill="#4386d8"/>
<circle cx="416.20" cy="227.80" r="2.75" fill="#4386d8"/>
<circle cx="421.40" cy="224.90" r="2.75" fill="#4386d8"/>
<circle cx="425.50" cy="222.20" r="2.75" fill="#4386d8"/>
<circle cx="430.30" cy="219.00" r="2.75" fill="#4386d8"/>
<circle cx="434.40" cy="216.30" r="2.75" fill="#4386d8"/>
<circle cx="438.50" cy="214.00" r="2.75" fill="#4386d8"/>
<circle cx="443.80" cy="211.20" r="2.75" fill="#4386d8"/>
<circle cx="448.40" cy="207.80" r="2.75" fill="#4386d8"/>
<circle cx="453.30" cy="205.30" r="2.75" fill="#4386d8"/>
<circle cx="457.60" cy="202.40" r="2.75" fill="#4386d8"/>
<circle cx="464.00" cy="199.50" r="2.75" fill="#4386d8"/>
<circle cx="468.90" cy="196.50" r="2.75" fill="#4386d8"/>
<circle cx="474.30" cy="193.30" r="2.75" fill="#4386d8"/>
<circle cx="480.20" cy="189.80" r="2.75" fill="#4386d8"/>
<circle cx="484.70" cy="185.50" r="2.75" fill="#4386d8"/>
<circle cx="489.80" cy="182.60" r="2.75" fill="#4386d8"/>
<circle cx="494.80" cy="179.80" r="2.75" fill="#4386d8"/>
<circle cx="500.30" cy="176.00" r="2.75" fill="#4386d8"/>
<circle cx="506.30" cy="173.10" r="2.75" fill="#4386d8"/>
<circle cx="512.20" cy="169.20" r="2.75" fill="#4386d8"/>
<circle cx="516.50" cy="166.30" r="2.75" fill="#4386d8"/>
<circle cx="521.70" cy="162.80" r="2.75" fill="#4386d8"/>
<circle cx="526.80" cy="158.20" r="2.75" fill="#4386d8"/>
<circle cx="531.60" cy="154.70" r="2.75" fill="#4386d8"/>
<circle cx="535.50" cy="150.80" r="2.75" fill="#4386d8"/>
<circle cx="540.90" cy="147.70" r="2.75" fill="#4386d8"/>
<circle cx="544.60" cy="144.00" r="2.75" fill="#4386d8"/>
<circle cx="548.70" cy="140.20" r="2.75" fill="#4386d8"/>
<circle cx="554.00" cy="136.40" r="2.75" fill="#4386d8"/>
<circle cx="559.00" cy="133.50" r="2.75" fill="#4386d8"/>
<circle cx="563.90" cy="129.70" r="2.75" fill="#4386d8"/>
<circle cx="568.30" cy="125.60" r="2.75" fill="#4386d8"/>
<circle cx="572.70" cy="121.90" r="2.75" fill="#4386d8"/>
<circle cx="578.60" cy="116.60" r="2.75" fill="#4386d8"/>
<circle cx="583.40" cy="112.40" r="2.75" fill="#4386d8"/>
<circle cx="587.80" cy="108.10" r="2.75" fill="#4386d8"/>
<circle cx="590.60" cy="103.60" r="2.75" fill="#4386d8"/>
<circle cx="595.00" cy="98.00" r="2.75" fill="#4386d8"/>
<circle cx="598.10" cy="92.70" r="2.75" fill="#4386d8"/>
<circle cx="601.70" cy="86.70" r="2.75" fill="#4386d8"/>
<circle cx="604.70" cy="82.00" r="2.75" fill="#4386d8"/>
<circle cx="604.70" cy="76.30" r="2.75" fill="#4386d8"/>
<circle cx="408.40" cy="224.80" r="2.75" fill="#c8102e"/>
<circle cx="411.40" cy="219.40" r="2.75" fill="#c8102e"/>
<circle cx="414.40" cy="213.60" r="2.75" fill="#c8102e"/>
<circle cx="417.20" cy="208.00" r="2.75" fill="#c8102e"/>
<circle cx="419.70" cy="201.90" r="2.75" fill="#c8102e"/>
<circle cx="422.60" cy="196.30" r="2.75" fill="#c8102e"/>
<circle cx="425.40" cy="190.80" r="2.75" fill="#c8102e"/>
<circle cx="428.50" cy="185.10" r="2.75" fill="#c8102e"/>
<circle cx="431.40" cy="179.70" r="2.75" fill="#c8102e"/>
<circle cx="434.30" cy="172.30" r="2.75" fill="#c8102e"/>
<circle cx="438.20" cy="166.50" r="2.75" fill="#c8102e"/>
<circle cx="443.10" cy="160.10" r="2.75" fill="#c8102e"/>
<circle cx="447.50" cy="153.80" r="2.75" fill="#c8102e"/>
<circle cx="453.30" cy="148.60" r="2.75" fill="#c8102e"/>
<circle cx="458.00" cy="142.80" r="2.75" fill="#c8102e"/>
<circle cx="463.30" cy="138.90" r="2.75" fill="#c8102e"/>
<circle cx="468.60" cy="136.20" r="2.75" fill="#c8102e"/>
<circle cx="477.20" cy="136.90" r="2.75" fill="#c8102e"/>
<circle cx="483.40" cy="138.30" r="2.75" fill="#c8102e"/>
<circle cx="490.20" cy="140.20" r="2.75" fill="#c8102e"/>
<circle cx="495.70" cy="145.40" r="2.75" fill="#c8102e"/>
<circle cx="503.20" cy="148.10" r="2.75" fill="#c8102e"/>
<circle cx="508.70" cy="151.30" r="2.75" fill="#c8102e"/>
<circle cx="516.10" cy="155.80" r="2.75" fill="#c8102e"/>
<circle cx="521.60" cy="159.40" r="2.75" fill="#c8102e"/>
<circle cx="526.90" cy="162.70" r="2.75" fill="#c8102e"/>
<circle cx="529.80" cy="165.80" r="2.75" fill="#c8102e"/>
<circle cx="535.00" cy="169.30" r="2.75" fill="#c8102e"/>
<circle cx="539.50" cy="172.00" r="2.75" fill="#c8102e"/>
<circle cx="544.50" cy="175.30" r="2.75" fill="#c8102e"/>
<circle cx="550.00" cy="178.10" r="2.75" fill="#c8102e"/>
<circle cx="554.60" cy="180.40" r="2.75" fill="#c8102e"/>
<circle cx="560.00" cy="185.40" r="2.75" fill="#c8102e"/>
<circle cx="565.90" cy="188.10" r="2.75" fill="#c8102e"/>
<circle cx="570.10" cy="191.50" r="2.75" fill="#c8102e"/>
<circle cx="574.70" cy="194.00" r="2.75" fill="#c8102e"/>
<circle cx="580.50" cy="196.20" r="2.75" fill="#c8102e"/>
<circle cx="584.70" cy="199.70" r="2.75" fill="#c8102e"/>
<circle cx="590.20" cy="201.80" r="2.75" fill="#c8102e"/>
<circle cx="595.00" cy="202.70" r="2.75" fill="#c8102e"/>
<circle cx="601.50" cy="202.10" r="2.75" fill="#c8102e"/>
<circle cx="604.80" cy="199.70" r="2.75" fill="#c8102e"/>
<circle cx="609.40" cy="196.00" r="2.75" fill="#c8102e"/>
<circle cx="613.00" cy="193.30" r="2.75" fill="#c8102e"/>
<circle cx="618.80" cy="188.30" r="2.75" fill="#c8102e"/>
<circle cx="622.00" cy="185.80" r="2.75" fill="#c8102e"/>
<circle cx="624.50" cy="181.20" r="2.75" fill="#c8102e"/>
<circle cx="629.30" cy="177.20" r="2.75" fill="#c8102e"/>
<circle cx="632.40" cy="172.40" r="2.75" fill="#c8102e"/>
<circle cx="637.90" cy="168.30" r="2.75" fill="#c8102e"/>
<circle cx="640.80" cy="163.50" r="2.75" fill="#c8102e"/>
<circle cx="643.60" cy="158.70" r="2.75" fill="#c8102e"/>
<circle cx="649.90" cy="152.00" r="2.75" fill="#c8102e"/>
<circle cx="654.70" cy="147.90" r="2.75" fill="#c8102e"/>
<circle cx="422.4" cy="34.60" r="2.7" fill="#c8102e"/>
<text x="428.8" y="36.90" font-family='"Liberation Sans", sans-serif' font-size="6.4" fill="#c8102e">bare GCE</text>
<circle cx="422.4" cy="43.20" r="2.7" fill="#f2a531"/>
<text x="428.8" y="45.50" font-family='"Liberation Sans", sans-serif' font-size="6.4" fill="#f2a531">RGO/GCE</text>
<circle cx="422.4" cy="52.00" r="2.7" fill="#4386d8"/>
<text x="428.8" y="54.30" font-family='"Liberation Sans", sans-serif' font-size="6.4" fill="#4386d8">RGO–TiN/GCE</text>
<text x="518.6" y="287.9" font-family='"Liberation Serif", serif' font-weight="bold" font-size="12.2" fill="#222">Z</text>
<line x1="529.1" y1="277.1" x2="529.1" y2="281.1" stroke="#777" stroke-width="1.3"/>
<text x="533.4" y="287.9" font-family='"Liberation Serif", serif' font-weight="bold" font-size="12.4" fill="#222">(ohm)</text>
<text transform="translate(368.9,163.2) rotate(-90)" x="0" y="0" font-family='"Liberation Serif", serif' font-weight="bold" font-size="12.2" fill="#222">-Z</text>
<line x1="358.3" y1="145.2" x2="362.5" y2="145.2" stroke="#777" stroke-width="1.1"/>
<line x1="358.3" y1="147.4" x2="362.5" y2="147.4" stroke="#777" stroke-width="1.1"/>
<text transform="translate(368.9,141.9) rotate(-90)" x="0" y="0" font-family='"Liberation Serif", serif' font-weight="bold" font-size="12" fill="#222">(ohm)</text>
</svg></body></html>
